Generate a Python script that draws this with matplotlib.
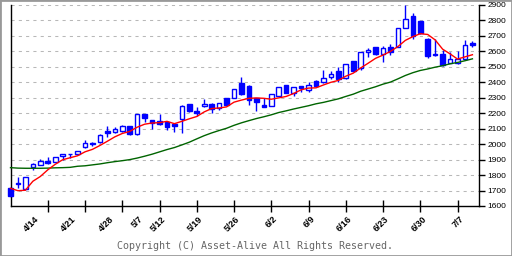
import numpy as np
import matplotlib
matplotlib.use('Agg')
import matplotlib.pyplot as plt
from matplotlib.patches import Rectangle

# ---- data ----
opens = [1715, 1748, 1708, 1850, 1865, 1893, 1883, 1923, 1935, 1934,
         1982, 2010, 2012, 2085, 2079, 2087, 2117, 2064, 2195, 2154,
         2150, 2145, 2132, 2161, 2260, 2214, 2245, 2258, 2235, 2297,
         2300, 2396, 2376, 2297, 2253, 2249, 2313, 2383, 2333, 2376,
         2350, 2409, 2400, 2437, 2471, 2426, 2538, 2495, 2594, 2626,
         2583, 2628, 2628, 2753, 2831, 2797, 2678, 2583, 2583, 2527,
         2523, 2549, 2656]
highs = [1720, 1790, 1790, 1877, 1904, 1915, 1920, 1936, 1938, 1956,
         2027, 2016, 2066, 2117, 2109, 2126, 2119, 2197, 2197, 2156,
         2197, 2148, 2135, 2255, 2262, 2238, 2292, 2268, 2266, 2297,
         2355, 2435, 2385, 2298, 2297, 2325, 2370, 2385, 2372, 2378,
         2404, 2412, 2478, 2473, 2499, 2519, 2540, 2596, 2622, 2628,
         2635, 2650, 2753, 2900, 2847, 2799, 2689, 2678, 2609, 2598,
         2603, 2674, 2667]
lows = [1655, 1718, 1705, 1833, 1862, 1872, 1882, 1898, 1910, 1932,
        1975, 1988, 2010, 2048, 2070, 2081, 2057, 2062, 2142, 2098,
        2124, 2092, 2081, 2070, 2208, 2182, 2238, 2204, 2221, 2250,
        2298, 2320, 2255, 2215, 2238, 2249, 2311, 2331, 2313, 2339,
        2339, 2374, 2398, 2422, 2400, 2424, 2473, 2478, 2562, 2579,
        2530, 2576, 2626, 2751, 2680, 2715, 2555, 2572, 2508, 2525,
        2516, 2547, 2630]
closes = [1665, 1740, 1786, 1872, 1891, 1880, 1919, 1934, 1937, 1954,
          2008, 1999, 2059, 2074, 2096, 2117, 2066, 2195, 2171, 2135,
          2128, 2109, 2119, 2247, 2217, 2202, 2258, 2228, 2264, 2253,
          2355, 2325, 2286, 2275, 2242, 2325, 2368, 2333, 2370, 2361,
          2381, 2376, 2426, 2456, 2422, 2517, 2475, 2594, 2609, 2581,
          2622, 2594, 2751, 2809, 2701, 2717, 2569, 2574, 2510, 2549,
          2549, 2641, 2643]
# moving-average values before enough closes are available
ma5_head = [1714, 1699, 1702, 1760]
ma25_head = [1848, 1845, 1844, 1844, 1844, 1845, 1847, 1848, 1850, 1857,
             1860, 1866, 1872, 1880, 1887, 1893, 1900, 1910, 1922, 1935,
             1950, 1965, 1978, 1995]
date_labels = ['4/14', '4/21', '4/28', '5/7', '5/12', '5/19', '5/26',
               '6/2', '6/9', '6/16', '6/23', '6/30', '7/7']
date_index = [5, 10, 15, 19, 22, 27, 32, 37, 42, 47, 52, 57, 62]
tick_index = list(range(5, 61, 5))
y_ticks = list(range(1600, 3000, 100))


def sma(values, n, head):
    out = list(head)
    for i in range(len(head), len(values)):
        out.append(float(np.mean(values[i - n + 1:i + 1])))
    return out


ma5 = sma(closes, 5, ma5_head)
ma25 = sma(closes, 25, ma25_head)
x = np.arange(len(closes))

W, H = 512, 256
fig = plt.figure(figsize=(W / 100, H / 100), dpi=100)
left_px, right_px, top_px, bot_px = 10.5, 479, 5, 206
ax = fig.add_axes([left_px / W, 1 - bot_px / H,
                   (right_px - left_px) / W, (bot_px - top_px) / H])
ax.set_xlim(0, 62.88)
ax.set_ylim(1600, 2900)

blue = '#0000FF'
for yv in y_ticks[1:]:
    ax.axhline(yv, color='#B8B8B8', lw=0.75, ls=(0, (3, 4)), zorder=1)

bw = 0.62
for i in range(len(closes)):
    o, h, l, c = opens[i], highs[i], lows[i], closes[i]
    ax.vlines(i, l, h, color=blue, lw=1, zorder=2, clip_on=False)
    up = c >= o
    bottom = min(o, c)
    height = max(abs(c - o), 3)
    ax.add_patch(Rectangle((i - bw / 2, bottom), bw, height,
                           facecolor='white' if up else blue,
                           edgecolor=blue, lw=1, zorder=3, clip_on=False))

ax.plot(x, ma25, color='#006400', lw=1.0, zorder=4, clip_on=False)
ax.plot(x, ma5, color='#FF0000', lw=1.0, zorder=5, clip_on=False)

for s in ['left', 'right', 'bottom']:
    ax.spines[s].set_color('black')
    ax.spines[s].set_linewidth(1)
ax.spines['top'].set_visible(False)

ax.yaxis.tick_right()
ax.set_yticks(y_ticks)
ax.set_yticklabels([str(v) for v in y_ticks], fontsize=6,
                   family='Liberation Sans')
ax.tick_params(axis='y', which='both', right=True, left=False,
               direction='out', length=4, width=1, pad=2, colors='black')

ax.set_xticks(tick_index)
ax.set_xticklabels([''] * len(tick_index))
ax.tick_params(axis='x', direction='inout', length=8, width=1)

for idx, lab in zip(date_index, date_labels):
    ax.annotate(lab, xy=(idx, 0), xycoords=('data', 'axes fraction'),
                xytext=(-5.0, -6), textcoords='offset points',
                rotation=45, ha='right', va='top', fontsize=6.5,
                fontweight='bold', family='Liberation Sans',
                annotation_clip=False)

fig.text(255 / W, 1 - 246 / H, 'Copyright (C) Asset-Alive All Rights Reserved.',
         ha='center', va='center', family='DejaVu Sans Mono', fontsize=7.2,
         color='#666666')

fig.patches.append(Rectangle((0, 0), 1, 1, transform=fig.transFigure,
                             fill=False, edgecolor='#999999', lw=2))

fig.savefig('out.png', dpi=100)
